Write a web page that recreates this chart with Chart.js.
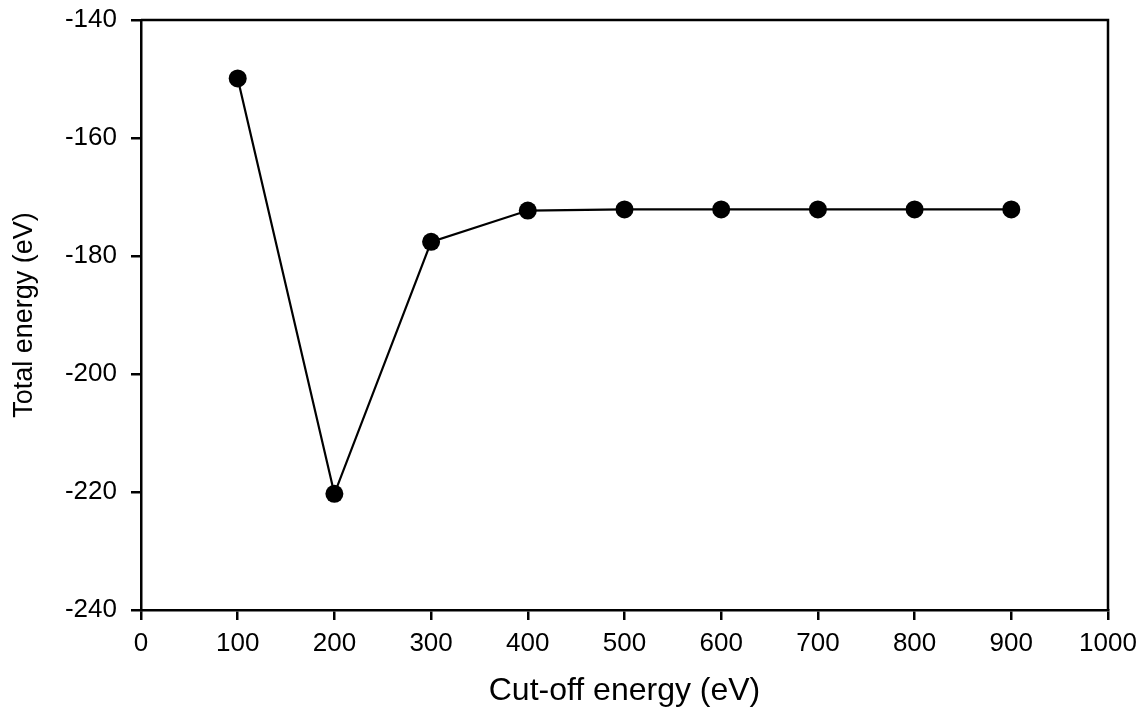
<!DOCTYPE html>
<html>
<head>
<meta charset="utf-8">
<script src="https://cdn.jsdelivr.net/npm/chart.js@4/dist/chart.umd.min.js"></script>
<style>
  html, body { margin: 0; padding: 0; background: #fff; }
</style>
</head>
<body>
<canvas id="energyChart" width="1145" height="710"></canvas>
<script>
// Datos
const cutoffEnergy = [100, 200, 300, 400, 500, 600, 700, 800, 900];
const totalEnergy = [-149.9, -220.3, -177.6, -172.3, -172.1, -172.1, -172.1, -172.1, -172.1];
const xTicks = [0, 100, 200, 300, 400, 500, 600, 700, 800, 900, 1000];
const yTicks = [-240, -220, -200, -180, -160, -140];

const fontFamily = '"Liberation Sans", Arial, sans-serif';

// Marco superior y derecho del área del gráfico
const framePlugin = {
    id: 'frame',
    afterDraw(chart) {
        const { ctx, chartArea } = chart;
        ctx.save();
        ctx.strokeStyle = '#000';
        ctx.lineWidth = 2.5;
        ctx.beginPath();
        ctx.moveTo(chartArea.left, chartArea.top);
        ctx.lineTo(chartArea.right, chartArea.top);
        ctx.lineTo(chartArea.right, chartArea.bottom);
        ctx.stroke();
        ctx.restore();
    }
};

const ctx = document.getElementById('energyChart').getContext('2d');
new Chart(ctx, {
    type: 'line',
    data: {
        datasets: [{
            data: cutoffEnergy.map((x, i) => ({ x: x, y: totalEnergy[i] })),
            borderColor: '#000',
            borderWidth: 2.2,
            backgroundColor: '#000',
            pointRadius: 9,
            pointBackgroundColor: '#000',
            pointBorderWidth: 0,
            tension: 0,
            fill: false
        }]
    },
    options: {
        responsive: false,
        animation: false,
        devicePixelRatio: 1,
        layout: { padding: { top: 20, right: 37, left: 0, bottom: 0 } },
        plugins: {
            legend: { display: false },
            tooltip: { enabled: false }
        },
        scales: {
            x: {
                type: 'linear',
                min: 0,
                max: 1000,
                afterBuildTicks: scale => { scale.ticks = xTicks.map(v => ({ value: v })); },
                afterFit: scale => {
                    scale.height = 100;
                    scale.paddingLeft = 0;
                    scale.paddingRight = 0;
                },
                border: { display: true, color: '#000', width: 2.5 },
                grid: { drawOnChartArea: false, drawTicks: true, tickLength: 10, color: '#000', lineWidth: 2.5 },
                ticks: {
                    color: '#000',
                    padding: 8,
                    maxRotation: 0,
                    callback: v => String(v),
                    font: { family: fontFamily, size: 26 }
                },
                title: {
                    display: true,
                    text: 'Cut-off energy (eV)',
                    color: '#000',
                    padding: { top: 0, bottom: 0 },
                    font: { family: fontFamily, size: 32 }
                }
            },
            y: {
                min: -240,
                max: -140,
                afterBuildTicks: scale => { scale.ticks = yTicks.map(v => ({ value: v })); },
                afterFit: scale => {
                    scale.width = 141;
                    scale.paddingTop = 0;
                    scale.paddingBottom = 0;
                },
                border: { display: true, color: '#000', width: 2.5 },
                grid: { drawOnChartArea: false, drawTicks: true, tickLength: 10, color: '#000', lineWidth: 2.5 },
                ticks: {
                    color: '#000',
                    padding: 14,
                    callback: v => String(v),
                    font: { family: fontFamily, size: 26 }
                },
                title: {
                    display: true,
                    text: 'Total energy (eV)',
                    color: '#000',
                    padding: { top: 8, bottom: 0 },
                    font: { family: fontFamily, size: 27 }
                }
            }
        }
    },
    plugins: [framePlugin]
});
</script>
</body>
</html>
